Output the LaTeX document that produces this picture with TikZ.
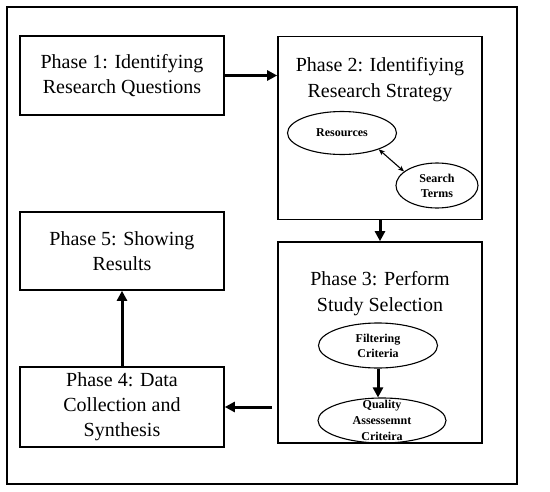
\documentclass[tikz,border=0pt]{standalone}
\usepackage{fontspec}
\setmainfont{Liberation Serif}
\usetikzlibrary{shapes.geometric,arrows.meta}

\tikzset{
  phase/.style={draw,line width=1.6pt,minimum width=204pt,inner sep=0pt,
    align=center,font=\fontsize{20}{25}\selectfont},
  title/.style={align=center,inner sep=0pt,font=\fontsize{20}{26}\selectfont},
  oval/.style={draw,ellipse,line width=1.1pt,inner sep=0pt,align=center,
    font=\fontsize{12}{15}\selectfont\bfseries},
  flow/.style={line width=3pt,-{Triangle[length=10pt,width=10pt]}},
}

\begin{document}
\begin{tikzpicture}[x=1pt,y=-1pt]
  \useasboundingbox (0,0) rectangle (550,491);
  \draw[line width=1.6pt] (7,7) rectangle (517,484);

  % phases
  \node[phase,minimum height=79pt] (p1) at (122,75.5) {Phase 1: Identifying\\Research Questions};
  \node[phase,minimum height=183pt] (p2) at (380,128) {};
  \node[title] (t2) at (380,80) {Phase 2: Identifiying\\Research Strategy};
  \node[phase,minimum height=201pt] (p3) at (380,342.5) {};
  \node[title] (t3) at (380,294) {Phase 3: Perform\\Study Selection};
  \node[phase,minimum height=78pt] (p5) at (122,251) {Phase 5: Showing\\Results};
  \node[phase,minimum height=80pt] (p4) at (122,407) {Phase 4: Data\\Collection and\\Synthesis};

  % inner steps
  \node[oval,minimum width=109pt,minimum height=43pt] (res) at (342,133) {Resources};
  \node[oval,minimum width=82pt,minimum height=45pt] (terms) at (437,185.5) {Search\\Terms};
  \node[oval,minimum width=119pt,minimum height=45pt] (filt) at (378,345.5) {Filtering\\Criteria};
  \node[oval,minimum width=128pt,minimum height=45pt,
    label={[align=center,inner sep=0pt,font=\fontsize{12}{16}\selectfont\bfseries]center:Quality\\Assessemnt\\Criteira}]
    (qual) at (382,420.5) {};

  % connectors
  \draw[flow] (p1.east) -- (p1.east -| p2.west);
  \draw[flow] (p2.south) -- (p3.north);
  \draw[flow,shorten <=5pt] (p4.east -| p3.west) -- (p4.east);
  \draw[flow] (p4.north) -- (p5.south);
  \draw[flow] (filt.south) -- (filt.south |- qual.north);
  \draw[line width=1.1pt,{Stealth[length=6pt,width=5pt]}-{Stealth[length=6pt,width=5pt]}]
    (res.-24) -- (terms.157);
\end{tikzpicture}
\end{document}
